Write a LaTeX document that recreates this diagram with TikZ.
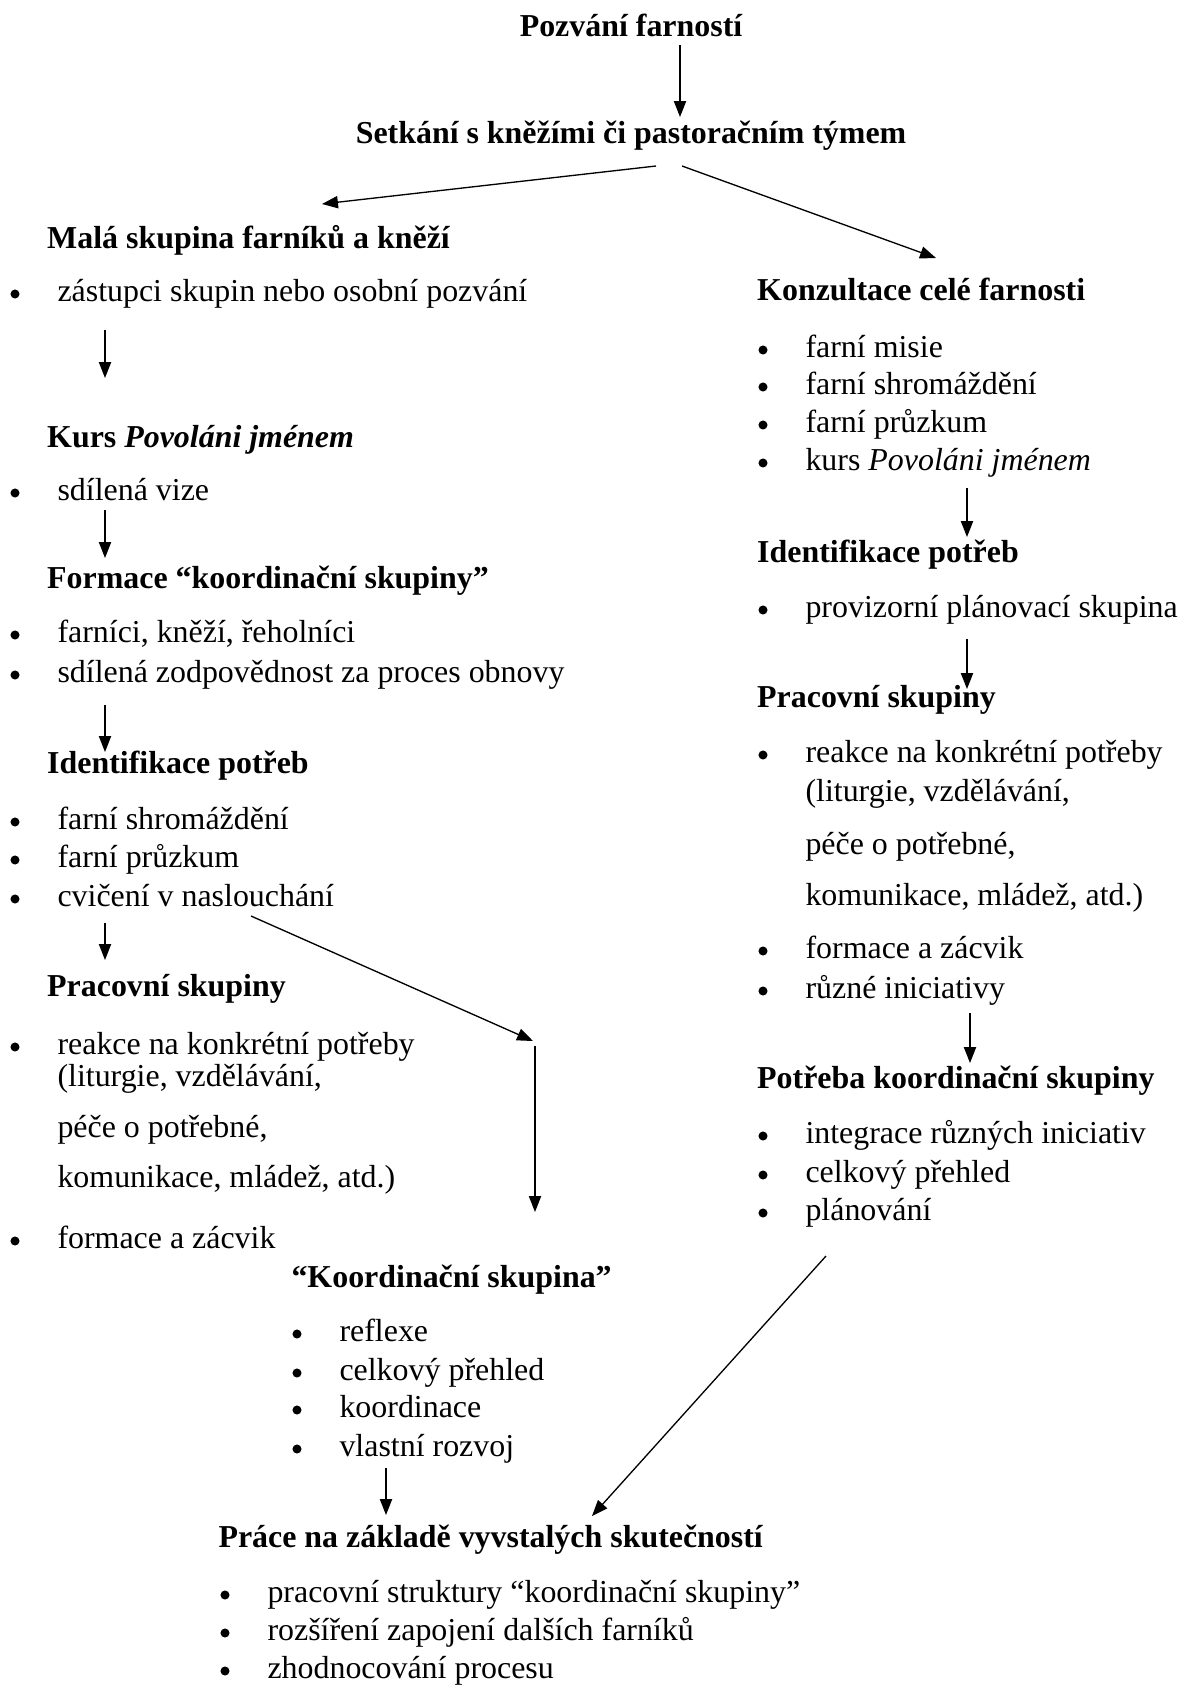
\documentclass[tikz,border=0pt]{standalone}
\usepackage{fontspec}
\setmainfont{Liberation Serif}
\usetikzlibrary{arrows.meta}

\tikzset{
    head/.style={anchor=base west, inner sep=0pt, font=\fontsize{12}{14}\selectfont\bfseries},
    top/.style={anchor=base, inner sep=0pt, font=\fontsize{12}{14}\selectfont\bfseries},
    txt/.style={anchor=base west, inner sep=0pt, font=\fontsize{12}{14}\selectfont},
    dot/.style={circle, fill=black, inner sep=0pt, minimum size=3.4pt},
    arr/.style={-{Triangle[length=6pt,width=4.6pt]}, line width=0.5pt}
}

\begin{document}
\begin{tikzpicture}[x=0.376pt, y=-0.376pt]
    \useasboundingbox (0,0) rectangle (1181,1686);

    % top
    \node[top] (pozvani) at (631,36) {Pozvání farností};
    \node[top] (setkani) at (631,143) {Setkání s kněžími či pastoračním týmem};

    % headings left
    \node[head] (mala) at (46.7,248) {Malá skupina farníků a kněží};
    \node[head] (kurs) at (46.7,447) {Kurs \textit{Povoláni jménem}};
    \node[head] (formace) at (46.7,588) {Formace “koordinační skupiny”};
    \node[head] (identL) at (46.7,773) {Identifikace potřeb};
    \node[head] (pracL) at (46.7,996) {Pracovní skupiny};
    \node[head] (koord) at (291,1287) {“Koordinační skupina”};
    \node[head] (prace) at (218,1547) {Práce na základě vyvstalých skutečností};

    % headings right
    \node[head] (konz) at (756.7,300) {Konzultace celé farnosti};
    \node[head] (identR) at (756.7,562) {Identifikace potřeb};
    \node[head] (pracR) at (756.7,707) {Pracovní skupiny};
    \node[head] (potreba) at (756.7,1088) {Potřeba koordinační skupiny};

    % bullet items
    \foreach \n/\x/\y/\t in {
        zas/15/301/{zástupci skupin nebo osobní pozvání},
        viz/15/500/{sdílená vize},
        far/15/642/{farníci, kněží, řeholníci},
        zod/15/682/{sdílená zodpovědnost za proces obnovy},
        shL/15/829/{farní shromáždění},
        pzL/15/867/{farní průzkum},
        cvi/15/906/{cvičení v naslouchání},
        reL/15/1054/{reakce na konkrétní potřeby},
        fzL/15/1248/{formace a zácvik},
        mis/763/357/{farní misie},
        shR/763/394/{farní shromáždění},
        pzR/763/432/{farní průzkum},
        kur/763/470/{kurs \textit{Povoláni jménem}},
        pro/763/617/{provizorní plánovací skupina},
        reR/763/762/{reakce na konkrétní potřeby},
        fzR/763/958/{formace a zácvik},
        ruz/763/998/{různé iniciativy},
        int/763/1143/{integrace různých iniciativ},
        cpR/763/1182/{celkový přehled},
        pla/763/1220/{plánování},
        ref/297/1341/{reflexe},
        cpK/297/1380/{celkový přehled},
        koo/297/1417/{koordinace},
        vla/297/1456/{vlastní rozvoj},
        str/225/1602/{pracovní struktury “koordinační skupiny”},
        roz/225/1640/{rozšíření zapojení dalších farníků},
        zho/225/1678/{zhodnocování procesu}}{

        \node[dot] (b\n) at (\x,\y-7) {};
        \node[txt] (\n) at (\x+42,\y) {\t};
    }

    % continuation lines
    \foreach \n/\x/\y/\t in {
        litL/57/1086/{(liturgie, vzdělávání,},
        pecL/57/1137/{péče o potřebné,},
        komL/57/1187/{komunikace, mládež, atd.)},
        litR/805/801/{(liturgie, vzdělávání,},
        pecR/805/854/{péče o potřebné,},
        komR/805/905/{komunikace, mládež, atd.)}}{

        \node[txt] (\n) at (\x,\y) {\t};
    }

    % arrow ends
    \foreach \n/\xa/\ya/\xb/\yb in {
        a1/680/45/680/117,
        a2/656/166/322/204,
        a3/682/166/936/258,
        a4/105/330/105/378,
        a5/105/510/105/558,
        a6/105/705/105/752,
        a7/105/923/105/960,
        a8/251/916/533/1041,
        a9/535/1046/535/1212,
        a10/386/1468/386/1515,
        a11/826/1256/592/1516,
        a12/967/488/967/537,
        a13/967/639/967/689,
        a14/970/1013/970/1063}{

        \coordinate (\n s) at (\xa,\ya);
        \coordinate (\n e) at (\xb,\yb);
        \draw[arr] (\n s) -- (\n e);
    }
\end{tikzpicture}
\end{document}
